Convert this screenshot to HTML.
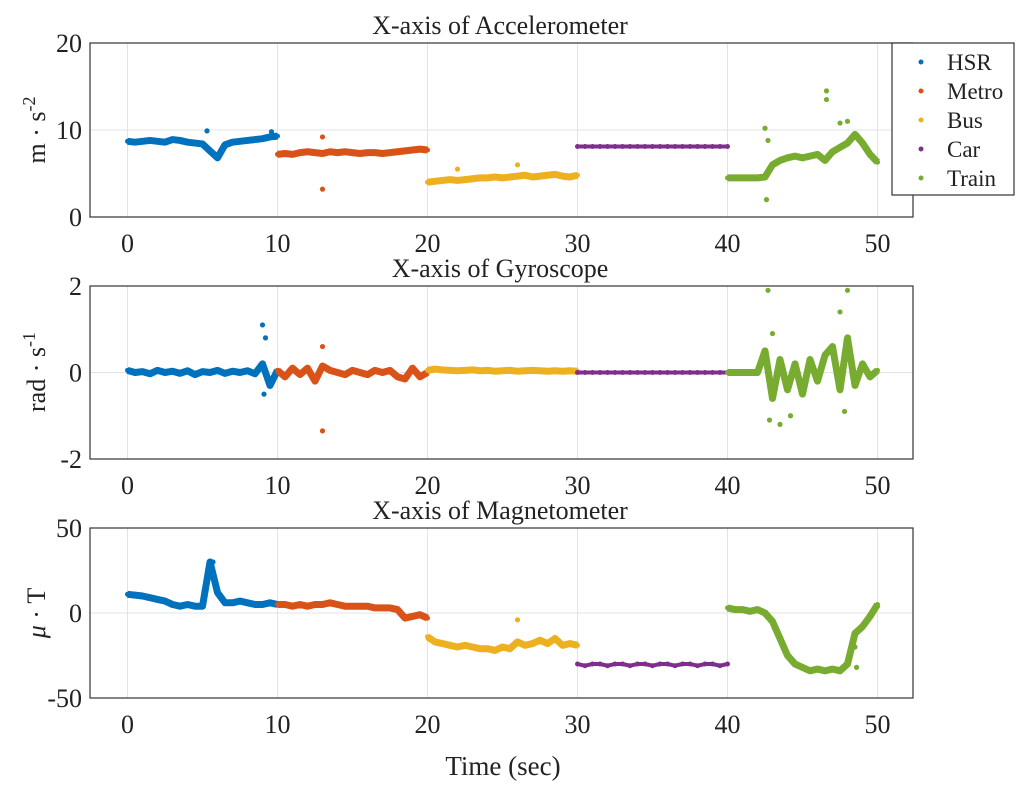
<!DOCTYPE html>
<html><head><meta charset="utf-8"><style>
body{margin:0;background:#fff;}
svg text{font-family:"Liberation Serif",serif;fill:#222;}
</style></head><body>
<svg id="chart" width="1024" height="791" xmlns="http://www.w3.org/2000/svg"></svg>
<script>
const xTicks = [0,10,20,30,40,50];
const modes = ["HSR","Metro","Bus","Car","Train"];
const colors = ["#0072BD","#D95319","#EDB120","#7E2F8E","#77AC30"];
const accHSR   = [8.7,8.6,8.7,8.8,8.7,8.6,8.9,8.8,8.6,8.5,8.4,7.6,6.8,8.3,8.6,8.7,8.8,8.9,9.0,9.2,9.3];
const accMetro = [7.2,7.3,7.2,7.4,7.5,7.4,7.3,7.5,7.4,7.5,7.4,7.3,7.4,7.4,7.3,7.4,7.5,7.6,7.7,7.8,7.7];
const accBus   = [4.0,4.1,4.2,4.3,4.2,4.3,4.4,4.5,4.5,4.6,4.5,4.6,4.7,4.8,4.6,4.7,4.8,4.9,4.7,4.6,4.8];
const accCar   = [8.1,8.1,8.1,8.1,8.1,8.1,8.1,8.1,8.1,8.1,8.1,8.1,8.1,8.1,8.1,8.1,8.1,8.1,8.1,8.1,8.1];
const accTrain = [4.5,4.5,4.5,4.5,4.5,4.6,6.0,6.5,6.8,7.0,6.8,7.0,7.2,6.5,7.5,8.0,8.5,9.5,8.5,7.2,6.3];
const accSpikesX = [5.3,13,13,22,26,42.5,42.6,42.7,46.6,46.6,48,47.5,9.6];
const accSpikesY = [9.9,9.2,3.2,5.5,6.0,10.2,2.0,8.8,14.5,13.5,11.0,10.8,9.8];

const gyrHSR   = [0.05,0,0.02,-0.03,0.05,0,0.03,-0.02,0.04,-0.05,0.02,0,0.05,-0.02,0.03,0,0.04,-0.03,0.2,-0.3,0.05];
const gyrMetro = [0.05,-0.1,0.1,-0.05,0.1,-0.2,0.15,0.05,0,-0.05,0.05,0,-0.05,0.05,0,0.05,-0.1,-0.15,0.1,-0.1,0.0];
const gyrBus   = [0.05,0.08,0.06,0.05,0.04,0.05,0.06,0.04,0.05,0.03,0.04,0.05,0.03,0.04,0.05,0.04,0.03,0.04,0.03,0.04,0.03];
const gyrCar   = [0,0,0,0,0,0,0,0,0,0,0,0,0,0,0,0,0,0,0,0,0];
const gyrTrain = [0,0,0,0,0,0.5,-0.6,0.3,-0.4,0.2,-0.5,0.3,-0.2,0.4,0.6,-0.4,0.8,-0.3,0.2,-0.1,0.05];
const gyrSpikesX = [9.0,9.1,9.2,13,13,42.7,42.8,43.5,47.5,48,47.8,43,44.2];
const gyrSpikesY = [1.1,-0.5,0.8,0.6,-1.35,1.9,-1.1,-1.2,1.4,1.9,-0.9,0.9,-1.0];

const magHSR   = [11,10.5,10,9,8,7,5,4,5,4,4,30,12,6,6,7,6,5,5,6,5];
const magMetro = [5,5,4,5,4,5,5,6,5,4,4,4,4,3,3,3,2,-3,-2,-1,-3];
const magBus   = [-14,-17,-18,-19,-20,-19,-20,-21,-21,-22,-20,-21,-17,-19,-18,-16,-18,-15,-19,-18,-19];
const magCar   = [-30,-31,-30,-30,-31,-30,-30,-31,-30,-30,-31,-30,-30,-31,-30,-30,-31,-30,-30,-31,-30];
const magTrain = [3,2,2,1,2,0,-5,-15,-25,-30,-32,-34,-33,-34,-33,-34,-30,-12,-8,-2,5];
const magSpikesX = [26,48.5,48.6,5.7,5.6];
const magSpikesY = [-4,-20,-32,30,28];

const panels = [
 {name:"accelerometer", title:"X-axis of Accelerometer", top:43, bot:217, ymin:0, ymax:20, yticks:[0,10,20],
  series:[accHSR,accMetro,accBus,accCar,accTrain], sx:accSpikesX, sy:accSpikesY},
 {name:"gyroscope", title:"X-axis of Gyroscope", top:286, bot:459, ymin:-2, ymax:2, yticks:[-2,0,2],
  series:[gyrHSR,gyrMetro,gyrBus,gyrCar,gyrTrain], sx:gyrSpikesX, sy:gyrSpikesY},
 {name:"magnetometer", title:"X-axis of Magnetometer", top:528, bot:698, ymin:-50, ymax:50, yticks:[-50,0,50],
  series:[magHSR,magMetro,magBus,magCar,magTrain], sx:magSpikesX, sy:magSpikesY}
];
const NS="http://www.w3.org/2000/svg";
const svg=document.getElementById('chart');
const L=90,R=913;
const xs=v=>127.5+v*15.0;
function mk(tag,attrs,parent){const e=document.createElementNS(NS,tag);for(const k in attrs)e.setAttribute(k,attrs[k]);(parent||svg).appendChild(e);return e;}
function segColor(x){return colors[Math.min(4,Math.floor(x/10))];}
panels.forEach((p,pi)=>{
  const ys=v=>p.bot-(v-p.ymin)/(p.ymax-p.ymin)*(p.bot-p.top);
  const g=mk('g',{});
  
  
  xTicks.forEach(t=>{const l=mk('line',{x1:xs(t),x2:xs(t),y1:p.top,y2:p.bot,stroke:'#e3e3e3','stroke-width':1},g);
    
    const tx=mk('text',{x:xs(t),y:p.bot+35,'text-anchor':'middle','font-size':26},g);tx.textContent=t;
    });
  p.yticks.forEach(t=>{const l=mk('line',{x1:L,x2:R,y1:ys(t),y2:ys(t),stroke:'#e3e3e3','stroke-width':1},g);
    
    const tx=mk('text',{x:L-8,y:ys(t)+9,'text-anchor':'end','font-size':26},g);tx.textContent=t;
    });
  p.series.forEach((arr,si)=>{
    const pts=arr.map((v,i)=>[xs(si*10+i*0.5),ys(v)]);
    const pl=mk('polyline',{points:pts.map(q=>q.join(',')).join(' '),fill:'none',stroke:colors[si],'stroke-width':si==3?4:7,'stroke-linejoin':'round'},g);
    
    
    pts.forEach(q=>{const c=mk('circle',{cx:q[0],cy:q[1],r:2.5,fill:colors[si]},g);
      });
  });
  p.sx.forEach((x,i)=>{const c=mk('circle',{cx:xs(x),cy:ys(p.sy[i]),r:2.6,fill:segColor(x)},g);
    });
  const box=mk('rect',{x:L,y:p.top,width:R-L,height:p.bot-p.top,fill:'none',stroke:'#333','stroke-width':1.2},g);
  
  const ti=mk('text',{x:500,y:p.top-9,'text-anchor':'middle','font-size':26},g);ti.textContent=p.title;
  
});
const yl=[["m · s",-2,130],["rad · s",-1,372],["μ · T",null,613]];
yl.forEach(([t,sup,cy])=>{
  const tx=mk('text',{transform:`translate(45,${cy}) rotate(-90)`,'text-anchor':'middle','font-size':26});
  
  if(sup===null){
    const a=mk('tspan',{'font-style':'italic'},tx);a.textContent="μ";
    const b=mk('tspan',{},tx);b.textContent=" · T";
  } else {
    tx.textContent=t;
    const ts=mk('tspan',{dy:-10,'font-size':18},tx);ts.textContent=sup;
  }
});
const xt=mk('text',{x:503,y:775,'text-anchor':'middle','font-size':27});xt.textContent="Time (sec)";

const lg=mk('g',{});


const lr=mk('rect',{x:892,y:43,width:122,height:152,fill:'#fff',stroke:'#333','stroke-width':1.2},lg);
modes.forEach((m,i)=>{
  const cy=62+i*29;
  const c=mk('circle',{cx:921,cy:cy,r:2.5,fill:colors[i]},lg);
  
  const tx=mk('text',{x:947,y:cy+8,'font-size':23},lg);tx.textContent=m;
  
});
</script>
</body></html>
